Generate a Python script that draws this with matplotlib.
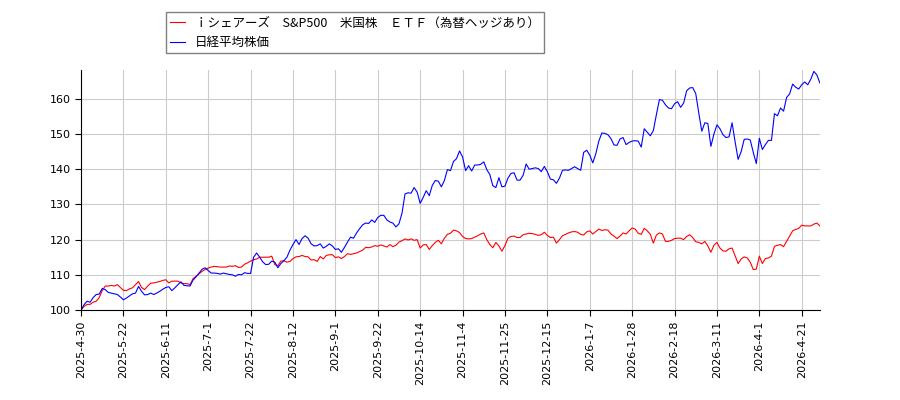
import matplotlib
matplotlib.use("Agg")
import matplotlib.pyplot as plt

plt.rcParams['font.family'] = ['Noto Sans CJK JP', 'DejaVu Sans']

series_names = ['ｉシェアーズ　S&P500　米国株　ＥＴＦ（為替ヘッジあり）', '日経平均株価']

tick_labels = ['2025-4-30', '2025-5-22', '2025-6-11', '2025-7-1', '2025-7-22', '2025-8-12',
               '2025-9-1', '2025-9-22', '2025-10-14', '2025-11-4', '2025-11-25', '2025-12-15',
               '2026-1-7', '2026-1-28', '2026-2-18', '2026-3-11', '2026-4-1', '2026-4-21']
tick_step = 14

etf = [
    100.0, 101.0, 101.6, 101.6, 102.2, 102.5, 103.5, 105.5, 106.8, 106.8,
    107.0, 106.8, 107.2, 106.4, 105.6, 105.5, 106.0, 106.3, 107.2, 108.1,
    106.4, 105.8, 106.8, 107.6, 107.7, 107.9, 108.1, 108.4, 108.6, 107.7,
    108.2, 108.2, 108.2, 107.7, 107.5, 107.5, 107.2, 108.9, 109.6, 110.3,
    111.0, 111.5, 111.9, 112.2, 112.4, 112.3, 112.2, 112.2, 112.2, 112.5,
    112.4, 112.6, 112.1, 112.2, 113.0, 113.4, 113.9, 114.3, 114.5, 115.0,
    115.0, 115.0, 115.0, 115.3, 112.9, 112.6, 113.9, 114.0, 113.6, 113.8,
    114.6, 115.1, 115.2, 115.5, 115.2, 115.1, 114.2, 114.3, 113.8, 115.2,
    114.5, 115.5, 115.7, 115.7, 114.9, 115.1, 114.6, 115.2, 116.0, 115.8,
    116.0, 116.2, 116.6, 117.0, 117.8, 117.7, 117.9, 118.3, 118.1, 118.5,
    118.2, 117.9, 118.6, 118.0, 118.4, 119.3, 119.7, 120.2, 119.9, 120.2,
    119.8, 120.0, 117.6, 118.5, 118.6, 117.2, 118.3, 119.2, 119.8, 118.8,
    120.4, 121.5, 121.8, 122.7, 122.5, 122.0, 120.9, 120.3, 120.2, 120.3,
    120.7, 121.1, 121.6, 121.9, 120.0, 118.6, 117.7, 119.2, 118.2, 116.7,
    118.3, 120.4, 120.9, 121.0, 120.6, 120.6, 121.4, 121.6, 121.8, 121.7,
    121.5, 121.2, 121.4, 122.1, 121.2, 120.6, 120.7, 119.0, 120.0, 121.1,
    121.5, 121.9, 122.2, 122.3, 122.1, 121.5, 121.3, 122.2, 122.5, 121.6,
    122.3, 123.0, 122.6, 122.8, 122.7, 121.6, 121.0, 120.3, 121.0, 121.9,
    121.6, 122.5, 123.3, 123.0, 121.8, 121.5, 123.2, 122.5, 121.5, 119.0,
    121.3, 121.9, 121.6, 119.5, 119.5, 119.8, 120.3, 120.4, 120.4, 120.0,
    120.9, 121.4, 120.6, 119.4, 119.2, 118.8, 119.5, 118.2, 116.4, 118.4,
    119.2, 117.6, 116.8, 116.7, 117.4, 117.6, 115.4, 113.2, 114.5, 115.1,
    114.8, 113.6, 111.5, 111.6, 115.3, 113.2, 114.6, 114.8, 115.3, 118.1,
    118.4, 118.6, 118.0, 119.5, 121.0, 122.5, 122.9, 123.2, 124.1, 123.9,
    123.9, 123.9, 124.4, 124.7, 123.9,
]

nikkei = [
    100.0, 101.5, 102.5, 102.2, 103.5, 104.4, 104.5, 106.1, 105.8, 105.0,
    104.8, 104.6, 104.4, 103.7, 102.9, 103.4, 104.0, 104.6, 104.8, 106.7,
    105.3, 104.3, 104.4, 104.8, 104.4, 104.8, 105.3, 105.9, 106.4, 106.6,
    105.5, 106.3, 107.2, 108.0, 107.0, 106.9, 106.8, 108.5, 109.4, 110.5,
    111.6, 112.0, 111.2, 110.5, 110.5, 110.4, 110.2, 110.5, 110.3, 110.1,
    110.0, 109.6, 110.1, 110.0, 110.6, 110.4, 110.4, 115.0, 116.2, 115.0,
    113.7, 112.9, 113.0, 113.9, 113.6, 112.0, 113.2, 114.0, 115.0, 117.0,
    118.6, 120.0, 118.6, 120.3, 121.1, 120.4, 118.8, 118.2, 118.3, 118.8,
    117.6, 118.1, 118.8, 118.2, 117.2, 117.4, 116.4, 117.8, 119.3, 120.7,
    120.4, 121.9, 123.1, 124.2, 124.7, 124.6, 125.6, 124.9, 126.3, 126.9,
    126.9, 125.6, 125.0, 124.7, 123.6, 124.5, 127.5, 133.0, 133.3, 133.2,
    134.8, 133.5, 130.3, 132.0, 133.9, 132.5, 135.4, 136.8, 136.6, 135.0,
    136.8, 139.9, 139.6, 142.2, 143.0, 145.2, 143.5, 139.6, 141.0, 139.5,
    141.2, 141.2, 141.4, 142.1, 139.9, 138.5, 135.3, 134.8, 137.6, 135.0,
    135.2, 137.5, 138.8, 139.0, 136.9, 136.9, 138.3, 141.5, 140.0, 140.2,
    140.4, 140.2, 139.3, 140.8, 139.3, 137.2, 137.0, 136.0, 137.5, 139.7,
    139.8, 139.7, 140.2, 140.7, 140.2, 139.7, 144.8, 145.4, 144.0, 141.8,
    144.4, 148.0, 150.3, 150.2, 149.8, 148.7, 146.9, 146.8, 148.6, 149.0,
    147.0, 147.6, 148.0, 148.1, 148.0, 146.3, 151.5, 150.5, 149.5, 151.0,
    155.5, 159.8, 159.6, 158.3, 157.4, 157.2, 158.6, 159.2, 157.6, 158.8,
    162.3, 163.1, 163.2, 161.5, 156.0, 150.8, 153.2, 153.0, 146.5, 150.0,
    152.6, 151.5, 149.8, 149.0, 149.2, 153.2, 147.8, 142.8, 145.0, 148.5,
    148.6, 148.3, 144.8, 141.6, 148.8, 145.6, 147.0, 148.2, 148.2, 155.8,
    155.2, 157.4, 156.5, 160.4, 161.4, 164.2, 163.3, 162.8, 164.0, 164.8,
    164.0, 165.6, 167.8, 166.8, 164.5,
]

fig = plt.figure(figsize=(9, 4), dpi=100)
ax = fig.add_axes([0.09, 0.225, 0.821, 0.6])

x = list(range(len(etf)))
ax.plot(x, etf, color='red', linewidth=0.8, label=series_names[0])
ax.plot(x, nikkei, color='blue', linewidth=0.8, label=series_names[1])

ax.set_xlim(0, len(etf) - 1)
ax.set_ylim(100, 168.2)
ax.set_yticks([100, 110, 120, 130, 140, 150, 160])
ax.set_xticks([i * tick_step for i in range(len(tick_labels))])
ax.set_xticklabels(tick_labels, rotation=90, fontsize=8, family=['DejaVu Sans'])
for lab in ax.get_yticklabels():
    lab.set_fontsize(8)
    lab.set_family(['DejaVu Sans'])
ax.grid(True, color='#cccccc', linewidth=0.8)
ax.set_axisbelow(True)
ax.spines['top'].set_visible(False)
ax.spines['right'].set_visible(False)
ax.tick_params(length=4, width=0.8)

fig.legend(loc='upper left', bbox_to_anchor=(0.177, 0.985), fontsize=9,
           frameon=True, fancybox=False, edgecolor='#808080', framealpha=1,
           handlelength=1.2, borderpad=0.35, labelspacing=0.5)

fig.savefig('out.png', dpi=100)
